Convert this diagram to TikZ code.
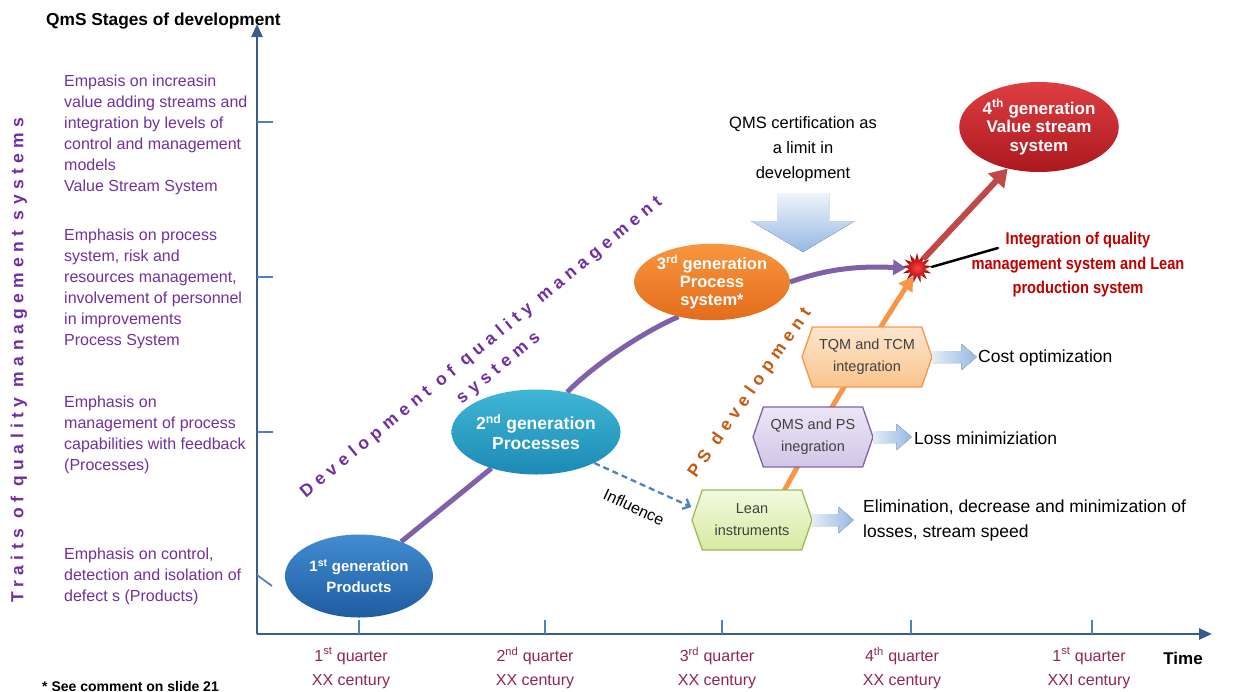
\documentclass[tikz,border=0pt]{standalone}
\usepackage{fontspec}
\setmainfont{Liberation Sans}
\newfontfamily\trackfont[LetterSpace=31]{Liberation Sans}
\newfontfamily\narrowfont[FakeStretch=0.86]{Liberation Sans}
\usetikzlibrary{shapes.geometric,shapes.symbols,arrows.meta}

\definecolor{axisblue}{RGB}{56,93,138}
\definecolor{tickblue}{RGB}{79,129,189}
\definecolor{traitpurple}{RGB}{112,48,160}
\definecolor{periodred}{RGB}{146,36,86}
\definecolor{psbrown}{RGB}{197,90,17}
\definecolor{intred}{RGB}{192,0,0}
\definecolor{pathpurple}{RGB}{128,96,168}
\definecolor{psorange}{RGB}{247,150,70}
\definecolor{arrowred}{RGB}{192,72,70}
\definecolor{dashblue}{RGB}{79,129,189}
\definecolor{boxtext}{RGB}{64,64,64}
\definecolor{gonetop}{RGB}{66,140,210}
\definecolor{gonebot}{RGB}{30,92,160}
\definecolor{gtwotop}{RGB}{64,182,214}
\definecolor{gtwobot}{RGB}{28,138,180}
\definecolor{gthreetop}{RGB}{248,150,62}
\definecolor{gthreebot}{RGB}{228,108,28}
\definecolor{gfourtop}{RGB}{222,62,66}
\definecolor{gfourbot}{RGB}{172,24,30}
\definecolor{leantop}{RGB}{242,249,224}
\definecolor{leanbot}{RGB}{214,234,160}
\definecolor{leanedge}{RGB}{155,187,89}
\definecolor{qmstop}{RGB}{236,230,246}
\definecolor{qmsbot}{RGB}{210,198,232}
\definecolor{qmsedge}{RGB}{128,100,162}
\definecolor{tqmtop}{RGB}{253,230,206}
\definecolor{tqmbot}{RGB}{250,196,140}
\definecolor{tqmedge}{RGB}{247,150,70}
\definecolor{barrowlight}{RGB}{226,236,248}
\definecolor{barrowdark}{RGB}{150,184,228}

\pgfdeclarelayer{back}
\pgfsetlayers{back,main}

\begin{document}
\begin{tikzpicture}[x=1pt,y=-1pt,
  axis/.style={line width=2.5pt, draw=axisblue, -{Triangle[length=13pt,width=11pt]}},
  tickmark/.style={line width=1.8pt, draw=tickblue},
  trait/.style={anchor=north west, align=left, text=traitpurple, inner sep=0pt,
    font=\fontsize{16}{21}\selectfont},
  period/.style={align=center, text=periodred, inner sep=0pt,
    font=\fontsize{16}{24}\selectfont},
  gen/.style={ellipse, inner sep=0pt, text=white, align=center},
  hexbox/.style={signal, signal to=east and west, signal pointer angle=142,
    minimum height=60pt, line width=1.3pt, align=center, text=boxtext,
    inner sep=2pt, font=\fontsize{14.5}{22}\selectfont},
  tracked/.style={inner sep=0pt, align=center, font=\fontsize{17.5}{27}\selectfont\trackfont\bfseries},
  effect/.style={anchor=west, inner sep=0pt, align=left, font=\fontsize{17.5}{25}\selectfont},
  genpath/.style={line width=5pt, draw=pathpurple},
  pics/barrow/.style={code={
    \fill[left color=barrowlight, right color=barrowdark]
      (0,-6) -- (#1-15,-6) -- (#1-15,-13) -- (#1,0) -- (#1-15,13) -- (#1-15,6) -- (0,6) -- cycle;}},
  pics/limitarrow/.style={code={
    \fill[top color=barrowlight!60!white, bottom color=barrowdark]
      (-26,0) -- (26,0) -- (26,28) -- (52,28) -- (0,59) -- (-52,28) -- (-26,28) -- cycle;}}
]
\useasboundingbox (0,0) rectangle (1241,691);

% ---------- axes ----------
\coordinate (O) at (257,634);
\coordinate (ytop) at (257,24);
\coordinate (xend) at (1212,634);
\draw[axis] (O) -- (ytop);
\draw[axis] (O) -- (xend);
\foreach \yy in {122,277,432} \draw[tickmark] (257,\yy) -- (273,\yy);
\draw[tickmark] (257,575) -- (272,586);
\foreach \xx in {359,545,722,911,1092} \draw[tickmark] (\xx,620) -- (\xx,634);

\node[anchor=west, inner sep=0pt, font=\fontsize{17.3}{20}\selectfont\bfseries] (ytitle) at (46,21) {QmS Stages of development};
\node[inner sep=0pt, font=\fontsize{17}{20}\selectfont\bfseries] (xtitle) at (1183,658) {Time};
\node[anchor=west, inner sep=0pt, font=\fontsize{14}{16}\selectfont\bfseries] (note) at (42,686) {* See comment on slide 21};

% ---------- time periods ----------
\node[period] (p1) at (351,668) {1\textsuperscript{st} quarter\\XX century};
\node[period] (p2) at (535,668) {2\textsuperscript{nd} quarter\\XX century};
\node[period] (p3) at (717,668) {3\textsuperscript{rd} quarter\\XX century};
\node[period] (p4) at (902,668) {4\textsuperscript{th} quarter\\XX century};
\node[period] (p5) at (1089,668) {1\textsuperscript{st} quarter\\XXI century};

% ---------- traits ----------
\node[rotate=90, text=traitpurple, tracked] (traits) at (19,360) {Traits of quality management systems};
\node[trait] (t4) at (64,75) {Empasis on increasin\\value adding streams and\\integration by levels of\\control and management\\models\\Value Stream System};
\node[trait] (t3) at (64,229) {Emphasis on process\\system, risk and\\resources management,\\involvement of personnel\\in improvements\\Process System};
\node[trait] (t2) at (64,396) {Emphasis on\\management of process\\capabilities with feedback\\(Processes)};
\node[trait] (t1) at (64,548) {Emphasis on control,\\detection and isolation of\\defect s (Products)};

% ---------- generations ----------
\node[gen, minimum width=148pt, minimum height=83pt, top color=gonetop, bottom color=gonebot,
  font=\fontsize{15}{21}\selectfont\bfseries] (g1) at (359,576) {1\textsuperscript{st} generation\\Products};
\node[gen, minimum width=150pt, minimum height=85pt, top color=gtwotop, bottom color=gtwobot,
  font=\fontsize{17.5}{20}\selectfont\bfseries] (g2) at (536,432) {2\textsuperscript{nd} generation\\Processes};
\node[gen, minimum width=152pt, minimum height=72pt, top color=gthreetop, bottom color=gthreebot,
  font=\fontsize{16.5}{18}\selectfont\bfseries] (g3) at (712,282) {3\textsuperscript{rd} generation\\Process\\system*};
\node[gen, minimum width=152pt, minimum height=90pt, top color=gfourtop, bottom color=gfourbot,
  font=\fontsize{17}{18.5}\selectfont\bfseries] (g4) at (1039,127) {4\textsuperscript{th} generation\\Value stream\\system};

\node[rotate=39.5, text=traitpurple, tracked] (devlabel) at (490,358) {Development of quality management\\systems};

% ---------- certification limit ----------
\node[inner sep=0pt, align=center, font=\fontsize{16.5}{25}\selectfont] (limtxt) at (803,149) {QMS certification as\\a limit in\\development};
\pic at (803,193) {limitarrow};

% ---------- integration point ----------
\node[starburst, starburst points=13, starburst point height=7pt, random starburst=0,
  minimum width=30pt, minimum height=30pt, inner sep=0pt,
  inner color=red!75!white, outer color=red!55!black] (star) at (917,268) {};
\node[inner sep=0pt, align=center, text=intred,
  font=\fontsize{17}{24.5}\selectfont\narrowfont\bfseries] (intlabel) at (1078,265)
  {Integration of quality\\management system and Lean\\production system};
\coordinate (ptr) at (998,248);
\draw[line width=2.5pt, line cap=round, shorten >=4pt] (ptr) -- (star.east);

% ---------- production system development ----------
\node[hexbox, minimum width=120pt, draw=leanedge, top color=leantop, bottom color=leanbot] (lean) at (752,520) {Lean\\instruments};
\node[hexbox, minimum width=120pt, draw=qmsedge, top color=qmstop, bottom color=qmsbot] (qmsps) at (813,437) {QMS and PS\\inegration};
\node[hexbox, minimum width=130pt, draw=tqmedge, top color=tqmtop, bottom color=tqmbot] (tqm) at (867,357) {TQM and TCM\\integration};

\pic at (lean.east) {barrow=41};
\pic at (qmsps.east) {barrow=38};
\pic at (tqm.east) {barrow=44};

\node[effect] (e1) at (863,520) {Elimination, decrease and minimization of\\losses, stream speed};
\node[effect] (e2) at (914,438) {Loss minimiziation};
\node[effect] (e3) at (978,358) {Cost optimization};

\node[rotate=55, text=psbrown, tracked] (pslabel) at (750,393) {PS development};
\node[rotate=-25, inner sep=0pt, font=\fontsize{16}{18}\selectfont] (infl) at (634,507) {Influence};

% ---------- connectors ----------
\coordinate (psstart) at (758,546);
\begin{pgfonlayer}{back}
  \draw[genpath] (g1) -- (g2);
  \draw[genpath] (g2.52) .. controls (596,363) and (645,331) .. (g3.226);
  \draw[line width=5pt, draw=psorange, -{Triangle[length=14pt,width=16pt]}]
    (psstart) .. controls (770,505) and (878,330) .. (star.245);
\end{pgfonlayer}
\draw[genpath, -{Triangle[length=13pt,width=15pt]}] (g3.east) .. controls (830,268) and (860,266) .. (star.west);
\draw[line width=6pt, draw=arrowred, -{Triangle[length=17pt,width=21pt]}] (star.55) -- (g4.233);
\draw[line width=2.3pt, draw=dashblue, dash pattern=on 6pt off 4pt, -{Straight Barb[length=6pt,width=11pt]}]
  (g2.-28) -- ([yshift=13pt]lean.west);
\end{tikzpicture}
\end{document}
